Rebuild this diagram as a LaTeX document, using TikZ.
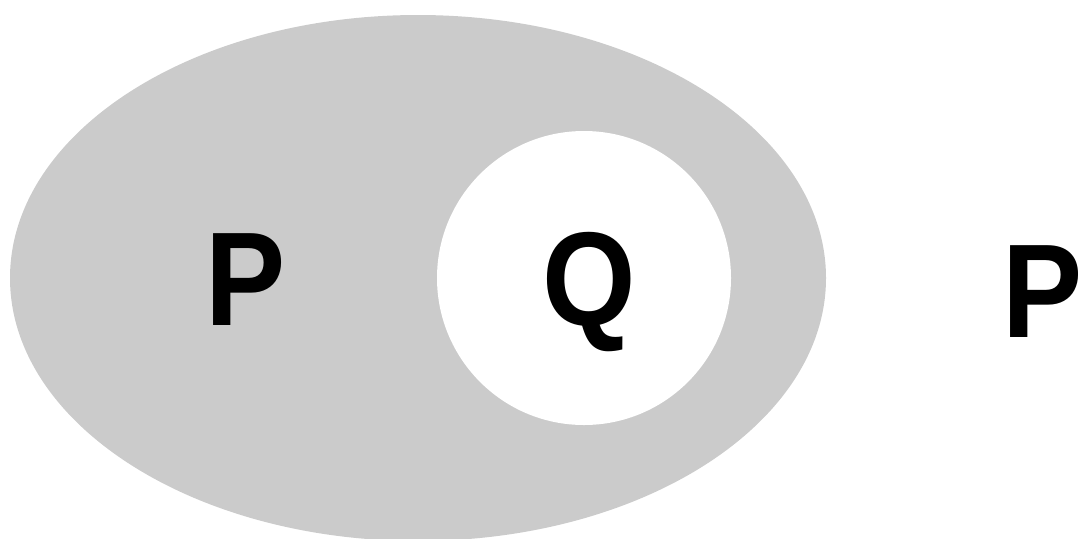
\documentclass[tikz,border=0pt]{standalone}
\usepackage{fontspec}
\setmainfont{Liberation Sans}
\definecolor{setgray}{RGB}{203,203,203}

\begin{document}
\begin{tikzpicture}[x=0.02cm,y=-0.02cm,
  lbl/.style={anchor=base,inner sep=0pt,xscale=0.9,transform shape,
    font=\fontsize{76}{80}\selectfont\bfseries}]
\useasboundingbox (0,0) rectangle (1078,538);
\fill[setgray] (418,278) ellipse [x radius=408,y radius=263];
\fill[white] (584,278) circle [radius=147];
\node[lbl] (pin) at (246,325) {P};
\node[lbl] (q) at (589,325) {Q};
\node[lbl] (pout) at (1043,337) {P};
\end{tikzpicture}
\end{document}
